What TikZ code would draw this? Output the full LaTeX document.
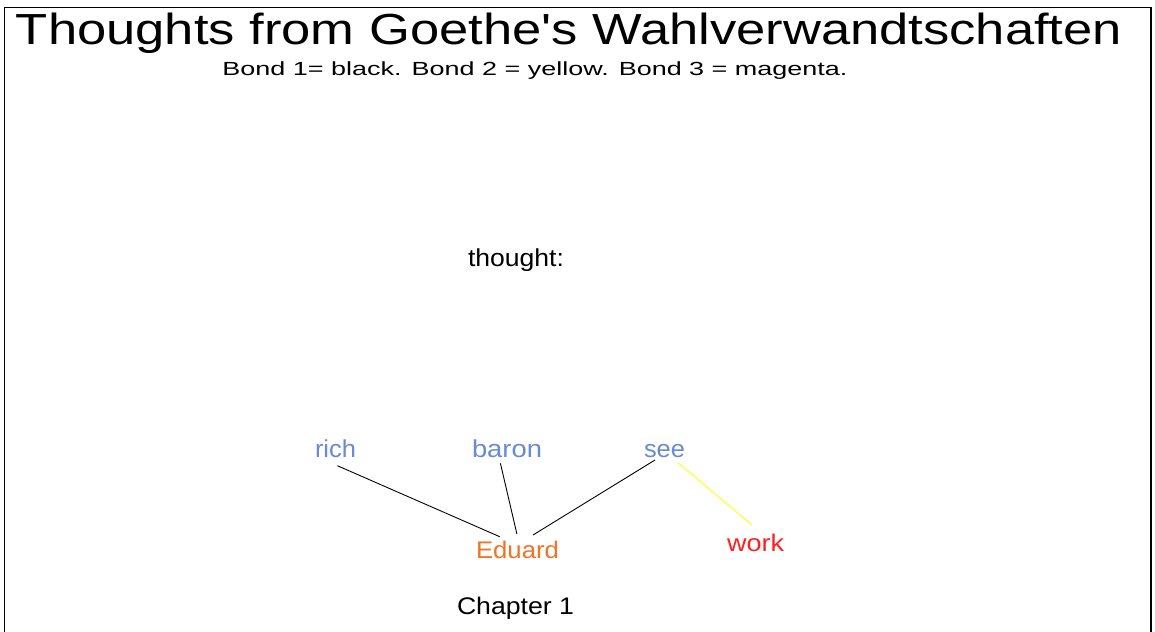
\documentclass[tikz,border=0pt]{standalone}
\usepackage{fontspec}
\usepackage{graphicx}
\newfontfamily\lsans{Liberation Sans}
\definecolor{wordblue}{RGB}{104,140,210}
\definecolor{edorange}{RGB}{240,116,36}
\definecolor{workred}{RGB}{255,32,32}
\definecolor{bondyellow}{RGB}{255,255,0}
\newcommand\fitw[3]{\resizebox{#1pt}{\height}{\fontsize{#2}{#2}\selectfont #3}}
\tikzset{
  lbl/.style={inner sep=0pt, outer sep=0pt, anchor=base, font=\lsans},
  bondone/.style={draw=black, line width=0.9pt},
  bondtwo/.style={draw=bondyellow, line width=0.9pt},
  frameline/.style={draw=black, line width=1.8pt}
}
\begin{document}
\begin{tikzpicture}[x=1pt, y=-1pt]
\useasboundingbox (0,0) rectangle (1155,631);
\fill[white] (0,0) rectangle (1155,631);
\draw[frameline] (4.5,632) -- (4.5,7.5) -- (1151,7.5) -- (1151,632);

\node[lbl] (title) at (569,44.5) {\fitw{1106}{43.5}{Thoughts from Goethe's Wahlverwandtschaften}};
\node[lbl] (legend) at (535,76) {\fitw{625}{19}{Bond 1= black. Bond 2 = yellow. Bond 3 = magenta.}};
\node[lbl] (thought) at (516,266) {\fitw{96}{24.5}{thought:}};

\node[lbl, text=wordblue] (rich) at (335.5,457.5) {\fitw{41}{24.5}{rich}};
\node[lbl, text=wordblue] (baron) at (507,457.5) {\fitw{70}{24.5}{baron}};
\node[lbl, text=wordblue] (see) at (664.5,457.7) {\fitw{41}{24.5}{see}};
\node[lbl, text=edorange] (eduard) at (517.5,558.3) {\fitw{83}{24}{Eduard}};
\node[lbl, text=workred] (work) at (755.5,551.5) {\fitw{57}{24}{work}};
\node[lbl] (chapter) at (515.5,614) {\fitw{117}{24}{Chapter 1}};

\draw[bondone] ([shift={(1.9,8.2)}]rich.base) -- ([shift={(-17.8,-21.6)}]eduard.base);
\draw[bondone] ([shift={(-6.6,5.8)}]baron.base) -- ([shift={(-0.6,-24.3)}]eduard.base);
\draw[bondone] ([shift={(-9.5,2.3)}]see.base) -- ([shift={(15.5,-23.3)}]eduard.base);
\draw[bondtwo] ([shift={(13.5,5)}]see.base) -- ([shift={(-3.5,-26.5)}]work.base);
\end{tikzpicture}
\end{document}
